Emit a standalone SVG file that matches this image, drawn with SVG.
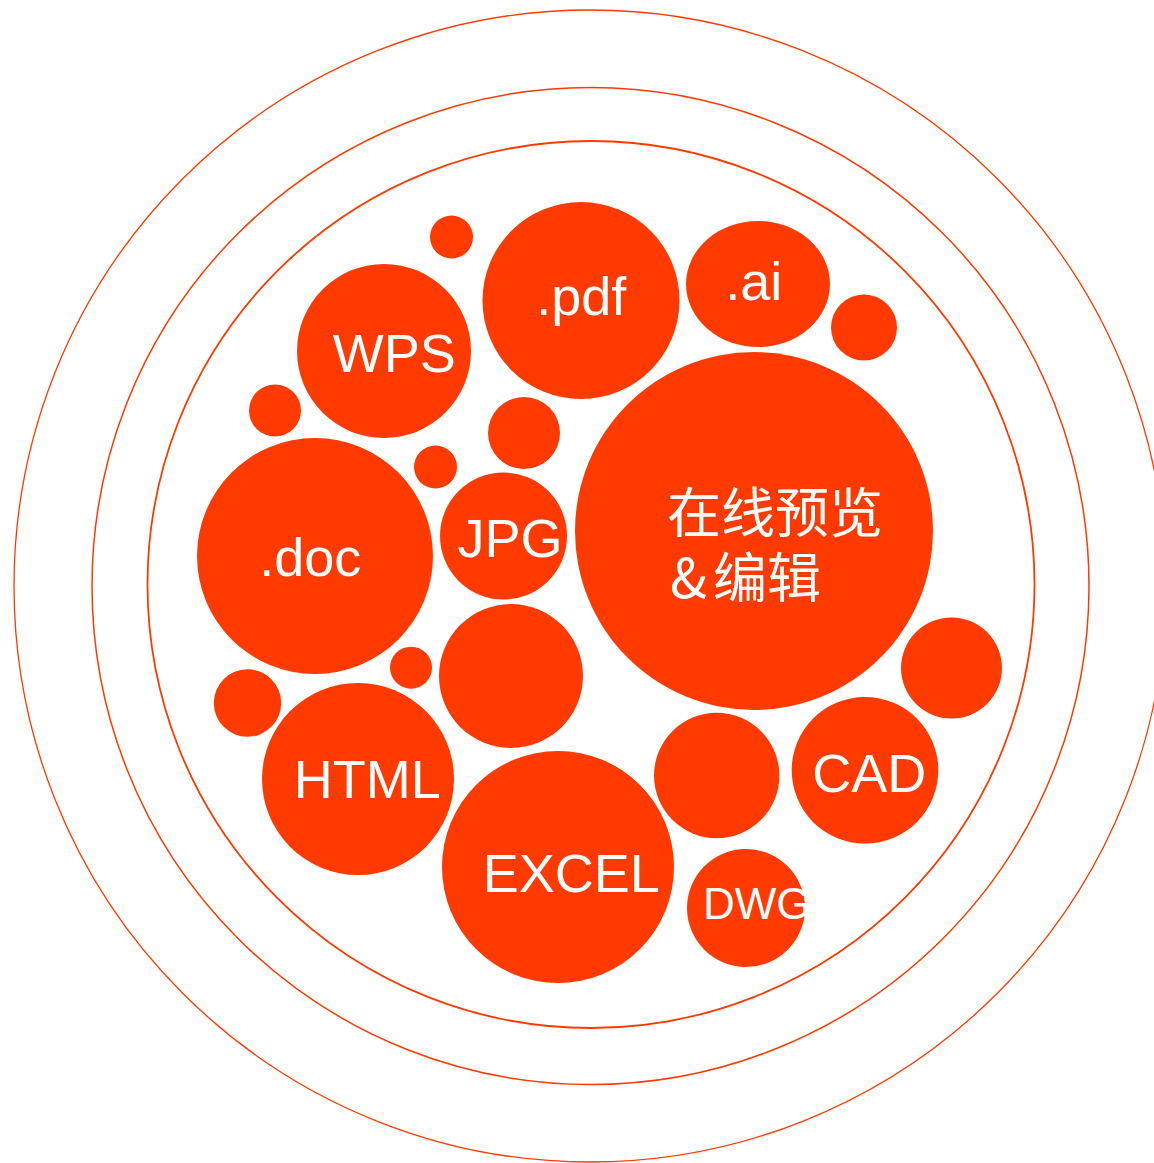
<svg xmlns="http://www.w3.org/2000/svg" width="1154" height="1163" viewBox="0 0 1154 1163">
  <style>
    .ring { fill: none; stroke: #FF3A00; }
    .dot { fill: #FF3A00; }
    .lbl { fill: #FFFFFF; font-family: "Liberation Sans", Arial, sans-serif; font-size: 54px; }
    .cn { fill: #FFFFFF; font-family: "Noto Sans CJK SC", "Noto Sans", sans-serif; font-size: 54px; }
  </style>
  <rect width="1154" height="1163" fill="#FFFFFF"/>
  <g id="rings">
    <circle class="ring" cx="590" cy="586" r="576" stroke-width="1.3"/>
    <circle class="ring" cx="590.5" cy="586" r="498.5" stroke-width="1.5"/>
    <circle class="ring" cx="591" cy="584.5" r="443.5" stroke-width="1.8"/>
  </g>
  <g id="connectors"></g>
  <g id="dot-top"><circle class="dot" cx="451.5" cy="237" r="21.5"/></g>
  <g id="node-pdf">
    <circle class="dot" cx="581" cy="300.5" r="98.5"/>
    <text class="lbl" x="536.3" y="315">.pdf</text>
  </g>
  <g id="node-ai">
    <ellipse class="dot" cx="758" cy="284" rx="72" ry="63"/>
    <text class="lbl" x="725.3" y="300">.ai</text>
  </g>
  <g id="dot-ai-right"><circle class="dot" cx="864" cy="327.5" r="33"/></g>
  <g id="node-wps">
    <circle class="dot" cx="384" cy="351" r="87"/>
    <text class="lbl" x="332.8" y="371.7">WPS</text>
  </g>
  <g id="dot-wps-left"><circle class="dot" cx="275" cy="410.5" r="26"/></g>
  <g id="dot-mid"><circle class="dot" cx="524" cy="433" r="36"/></g>
  <g id="dot-doc-right"><circle class="dot" cx="435.5" cy="467" r="21.5"/></g>
  <g id="node-doc">
    <circle class="dot" cx="315" cy="556" r="118"/>
    <text class="lbl" x="259.3" y="575.7">.doc</text>
  </g>
  <g id="node-jpg">
    <circle class="dot" cx="503.5" cy="536" r="63.5"/>
    <text class="lbl" x="457.5" y="556.7">JPG</text>
  </g>
  <g id="node-main">
    <circle class="dot" cx="754" cy="531" r="179"/>
    <text class="cn"><tspan x="667" y="533">在线预览</tspan><tspan x="670" y="598">&amp;</tspan><tspan x="713" y="598">编辑</tspan></text>
  </g>
  <g id="dot-doc-bottom"><circle class="dot" cx="411" cy="667.7" r="21"/></g>
  <g id="dot-html-left"><circle class="dot" cx="247.5" cy="703" r="33.7"/></g>
  <g id="dot-blank-left"><circle class="dot" cx="511" cy="676" r="72"/></g>
  <g id="node-html">
    <circle class="dot" cx="358" cy="779" r="96"/>
    <text class="lbl" x="293.7" y="797.7">HTML</text>
  </g>
  <g id="dot-right"><circle class="dot" cx="951.5" cy="668" r="50.5"/></g>
  <g id="dot-blank-right"><circle class="dot" cx="716.7" cy="775.5" r="62.7"/></g>
  <g id="node-cad">
    <circle class="dot" cx="865" cy="770.3" r="73.3"/>
    <text class="lbl" x="812.3" y="792">CAD</text>
  </g>
  <g id="node-excel">
    <circle class="dot" cx="558" cy="867" r="116"/>
    <text class="lbl" x="482.7" y="891.7">EXCEL</text>
  </g>
  <g id="node-dwg">
    <circle class="dot" cx="746" cy="908" r="59"/>
    <text class="lbl" x="703" y="919.3" style="font-size:44px">DWG</text>
  </g>
</svg>
